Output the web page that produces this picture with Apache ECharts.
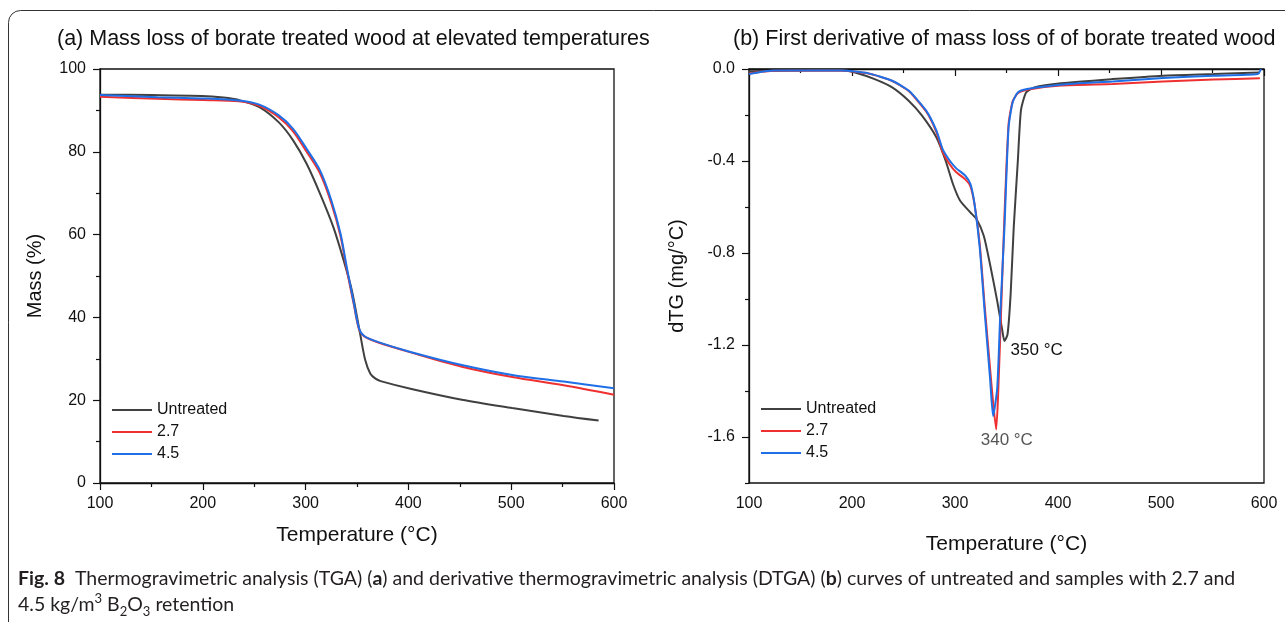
<!DOCTYPE html>
<html>
<head>
<meta charset="utf-8">
<script src="https://cdn.jsdelivr.net/npm/echarts@6/dist/echarts.min.js"></script>
<style>
  html, body { margin: 0; padding: 0; background: #fff; }
  #chart { width: 1285px; height: 622px; }
</style>
</head>
<body>
<div id="chart"></div>
<script>
// (a) TGA: mass (%) vs temperature (°C)
const tgaUntreatedT = [100, 150, 199, 220, 235, 255, 274, 288, 301, 314, 327, 337, 345, 353, 358, 363, 368, 373, 403, 452, 501, 551, 585];
const tgaUntreatedMass = [93.8, 93.7, 93.5, 93.1, 92.5, 90.8, 87.1, 82.7, 77.1, 69.9, 61.8, 53.8, 46.5, 36.1, 29.7, 26.4, 25.2, 24.6, 22.7, 20.1, 18.1, 16.2, 15.1];

const tga27T = [100, 156, 200, 235, 255, 274, 288, 301, 314, 325, 334, 340, 347, 352, 357, 370, 403, 452, 501, 551, 600];
const tga27Mass = [93.3, 92.8, 92.5, 92.2, 91.1, 88.3, 84.9, 80.0, 74.8, 67.6, 59.6, 51.6, 43.0, 37.1, 35.4, 34.0, 31.5, 28.1, 25.6, 23.6, 21.3];

const tga45T = [100, 156, 200, 235, 255, 274, 288, 301, 314, 325, 334, 340, 347, 352, 357, 370, 403, 452, 501, 551, 600];
const tga45Mass = [93.7, 93.2, 92.9, 92.4, 91.4, 88.8, 85.5, 80.7, 75.5, 68.3, 60.2, 52.2, 43.4, 37.3, 35.5, 34.1, 31.6, 28.5, 26.1, 24.5, 22.9];

// (b) DTG: dTG (mg/°C) vs temperature (°C)
const dtgUntreatedT = [100, 150, 190, 203, 222, 239, 255, 268, 282, 291, 298, 305, 315, 321, 328, 334, 341, 346, 348, 351, 354, 357, 361, 364, 369, 377, 403, 453, 502, 551, 596];
const dtgUntreatedV = [-0.01, -0.005, -0.004, -0.015, -0.044, -0.08, -0.138, -0.203, -0.298, -0.4, -0.5, -0.573, -0.624, -0.653, -0.726, -0.849, -1.009, -1.139, -1.183, -1.154, -0.98, -0.69, -0.4, -0.181, -0.102, -0.08, -0.062, -0.044, -0.029, -0.022, -0.015];

const dtg27T = [100, 124, 190, 216, 239, 255, 272, 282, 288, 295, 301, 310, 315, 319, 324, 329, 334, 337, 340, 342, 345, 348, 352, 356, 361, 370, 403, 453, 502, 551, 596];
const dtg27V = [-0.02, -0.008, -0.008, -0.02, -0.052, -0.096, -0.185, -0.275, -0.36, -0.415, -0.448, -0.48, -0.51, -0.59, -0.76, -1.04, -1.3, -1.45, -1.567, -1.4, -1.02, -0.64, -0.24, -0.14, -0.105, -0.09, -0.072, -0.065, -0.054, -0.046, -0.04];

const dtg45T = [100, 124, 190, 216, 239, 255, 272, 282, 288, 295, 301, 310, 315, 319, 324, 329, 334, 337, 341, 344, 348, 352, 356, 361, 370, 403, 453, 502, 551, 594, 597];
const dtg45V = [-0.022, -0.007, -0.007, -0.019, -0.051, -0.094, -0.181, -0.268, -0.348, -0.399, -0.431, -0.464, -0.5, -0.588, -0.776, -1.067, -1.343, -1.51, -1.386, -1.06, -0.69, -0.254, -0.145, -0.102, -0.087, -0.068, -0.054, -0.039, -0.029, -0.022, 0.0];

const seriesNames = ['Untreated', '2.7', '4.5'];
const seriesColors = ['#404040', '#ee3030', '#1f6fe6'];

const dtgMajorTicks = [-1.6, -1.2, -0.8, -0.4, 0.0];
const dtgMinorTicks = [-1.8, -1.4, -1.0, -0.6, -0.2];

const peakLabels = [
  { text: '350 °C', coord: [354, -1.222], color: '#111', position: 'right' },
  { text: '340 °C', coord: [350.3, -1.613], color: '#555', position: 'inside' }
];

function zip(xs, ys) {
  return xs.map((x, i) => [x, ys[i]]);
}

const FONT = 'Liberation Sans, Arial, sans-serif';
const CAPTION_FONT = 'Lato, sans-serif';
const axisFont = { fontFamily: FONT, fontSize: 16, color: '#111' };

function xAxisFor(gridIndex, nameGap) {
  return {
    gridIndex: gridIndex,
    type: 'value',
    min: 100,
    max: 600,
    interval: 100,
    name: 'Temperature (°C)',
    nameLocation: 'middle',
    nameGap: nameGap,
    nameTextStyle: { fontFamily: FONT, fontSize: 21, color: '#111' },
    axisLine: { show: true, lineStyle: { color: '#111', width: 1.3 } },
    axisTick: { show: true, length: 7, lineStyle: { color: '#111', width: 1.2 } },
    minorTick: { show: true, splitNumber: 2, length: 4, lineStyle: { color: '#111', width: 1.2 } },
    axisLabel: Object.assign({ margin: 13 }, axisFont),
    splitLine: { show: false }
  };
}

const lineBase = {
  type: 'line',
  showSymbol: false,
  symbol: 'none',
  smooth: 0.3,
  lineStyle: { width: 2 }
};

let chart = echarts.init(document.getElementById('chart'), null, { renderer: 'canvas' });

let option = {
  animation: false,
  backgroundColor: '#fff',
  color: seriesColors,
  title: [
    {
      text: '(a) Mass loss of borate treated wood at elevated temperatures',
      left: 57,
      top: 28,
      padding: 0,
      textStyle: { fontFamily: FONT, fontSize: 21.5, fontWeight: 'normal', color: '#111' }
    },
    {
      text: '(b) First derivative of mass loss of of borate treated wood',
      left: 733,
      top: 28,
      padding: 0,
      textStyle: { fontFamily: FONT, fontSize: 21.5, fontWeight: 'normal', color: '#111' }
    },
    {
      text: '{b|Fig. 8}  {n|Thermogravimetric analysis (TGA) (}{b|a}{n|) and derivative thermogravimetric analysis (DTGA) (}{b|b}{n|) curves of untreated and samples with 2.7 and}\n' +
            '{n|4.5 kg/m}{sup|3}{n| B}{sub|2}{n|O}{sub|3}{n| retention}',
      left: 18,
      top: 566,
      padding: 0,
      textStyle: {
        fontFamily: CAPTION_FONT,
        fontSize: 19.5,
        fontWeight: 'normal',
        color: '#231f20',
        lineHeight: 26,
        rich: {
          n: { fontFamily: CAPTION_FONT, fontSize: 19.5, color: '#231f20', lineHeight: 26 },
          b: { fontFamily: CAPTION_FONT, fontSize: 19.5, fontWeight: 'bold', color: '#231f20', lineHeight: 26 },
          sup: { fontFamily: CAPTION_FONT, fontSize: 13, color: '#231f20', lineHeight: 16, verticalAlign: 'top' },
          sub: { fontFamily: CAPTION_FONT, fontSize: 13, color: '#231f20', lineHeight: 14, verticalAlign: 'bottom' }
        }
      }
    }
  ],
  legend: [
    {
      data: seriesNames,
      orient: 'vertical',
      left: 112,
      top: 402,
      padding: 0,
      itemGap: 6,
      itemWidth: 40,
      itemHeight: 2,
      icon: 'rect',
      selectedMode: false,
      textStyle: { fontFamily: FONT, fontSize: 16, color: '#111', lineHeight: 16 }
    },
    {
      data: seriesNames,
      orient: 'vertical',
      left: 761,
      top: 401,
      padding: 0,
      itemGap: 6,
      itemWidth: 40,
      itemHeight: 2,
      icon: 'rect',
      selectedMode: false,
      textStyle: { fontFamily: FONT, fontSize: 16, color: '#111', lineHeight: 16 }
    }
  ],
  graphic: [
    {
      type: 'rect',
      silent: true,
      shape: { x: 8.5, y: 10.5, width: 1400, height: 700, r: 12 },
      style: { fill: 'none', stroke: '#333', lineWidth: 1 }
    }
  ],
  grid: [
    { left: 100, top: 69, width: 514, height: 414, show: true, borderColor: '#111', borderWidth: 1.3, backgroundColor: 'transparent' },
    { left: 749, top: 69, width: 515, height: 414, show: true, borderColor: '#111', borderWidth: 1.3, backgroundColor: 'transparent' }
  ],
  xAxis: [xAxisFor(0, 42), xAxisFor(1, 51)],
  yAxis: [
    {
      gridIndex: 0,
      type: 'value',
      min: 0,
      max: 100,
      interval: 20,
      name: 'Mass (%)',
      nameLocation: 'middle',
      nameGap: 55,
      nameTextStyle: { fontFamily: FONT, fontSize: 20, color: '#111' },
      axisLine: { show: true, lineStyle: { color: '#111', width: 1.3 } },
      axisTick: { show: true, length: 7, lineStyle: { color: '#111', width: 1.2 } },
      minorTick: { show: true, splitNumber: 2, length: 4, lineStyle: { color: '#111', width: 1.2 } },
      axisLabel: Object.assign({ margin: 14 }, axisFont),
      splitLine: { show: false }
    },
    {
      gridIndex: 1,
      type: 'value',
      position: 'left',
      min: -1.8,
      max: 0,
      name: 'dTG (mg/°C)',
      nameLocation: 'middle',
      nameGap: 62,
      nameTextStyle: { fontFamily: FONT, fontSize: 20, color: '#111' },
      axisLine: { show: true, lineStyle: { color: '#111', width: 1.3 } },
      axisTick: { show: true, length: 7, customValues: dtgMajorTicks, lineStyle: { color: '#111', width: 1.2 } },
      axisLabel: Object.assign({ margin: 14, customValues: dtgMajorTicks, formatter: v => v.toFixed(1) }, axisFont),
      splitLine: { show: false }
    },
    {
      gridIndex: 1,
      type: 'value',
      position: 'left',
      offset: 0,
      min: -1.8,
      max: 0,
      axisLine: { show: false },
      axisTick: { show: true, length: 4, customValues: dtgMinorTicks, lineStyle: { color: '#111', width: 1.2 } },
      axisLabel: { show: false },
      splitLine: { show: false }
    }
  ],
  series: [
    Object.assign({}, lineBase, { name: seriesNames[0], xAxisIndex: 0, yAxisIndex: 0, data: zip(tgaUntreatedT, tgaUntreatedMass) }),
    Object.assign({}, lineBase, { name: seriesNames[1], xAxisIndex: 0, yAxisIndex: 0, data: zip(tga27T, tga27Mass) }),
    Object.assign({}, lineBase, { name: seriesNames[2], xAxisIndex: 0, yAxisIndex: 0, data: zip(tga45T, tga45Mass) }),
    Object.assign({}, lineBase, {
      name: seriesNames[0], xAxisIndex: 1, yAxisIndex: 1, smooth: 0.2,
      data: zip(dtgUntreatedT, dtgUntreatedV),
      markPoint: {
        silent: true,
        symbol: 'circle',
        symbolSize: 0,
        data: peakLabels.map(p => ({
          coord: p.coord,
          label: {
            show: true,
            position: p.position,
            distance: 0,
            formatter: p.text,
            fontFamily: FONT,
            fontSize: 17,
            color: p.color
          }
        }))
      }
    }),
    Object.assign({}, lineBase, { name: seriesNames[1], xAxisIndex: 1, yAxisIndex: 1, smooth: 0.2, data: zip(dtg27T, dtg27V) }),
    Object.assign({}, lineBase, { name: seriesNames[2], xAxisIndex: 1, yAxisIndex: 1, smooth: 0.2, data: zip(dtg45T, dtg45V) })
  ]
};

chart.setOption(option);
</script>
</body>
</html>
